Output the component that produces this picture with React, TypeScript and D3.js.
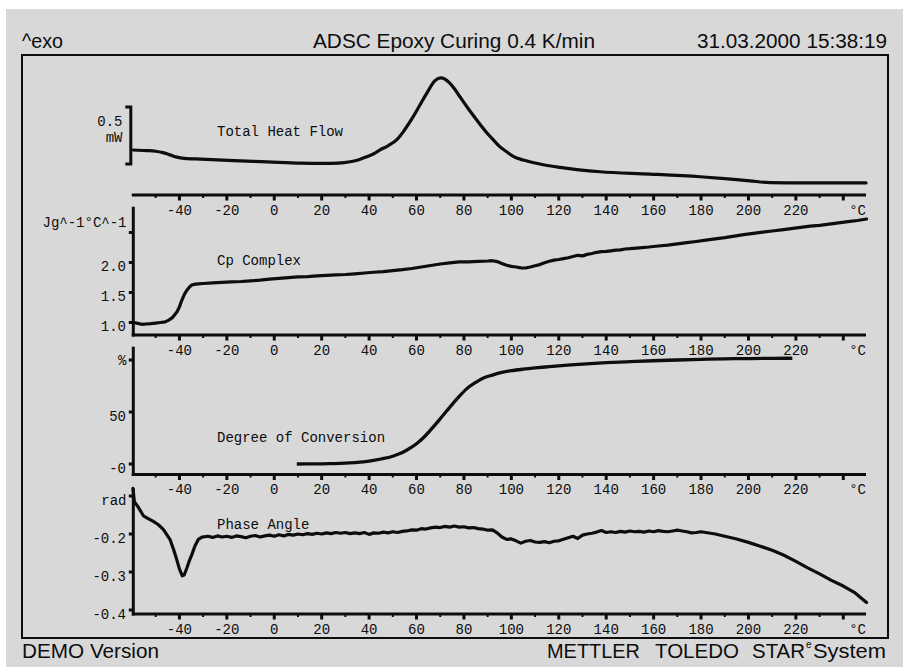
import React from 'react';
import * as d3 from 'd3';

// ---------- text ----------
const headerLeft = '^exo';
const headerTitle = 'ADSC Epoxy Curing 0.4 K/min';
const headerDate = '31.03.2000 15:38:19';
const footerLeft = 'DEMO Version';
const footerWords = ['METTLER', 'TOLEDO', 'STAR'];
const footerSup = 'e';
const footerLast = 'System';

// ---------- x axis (temperature) ----------
const xMajorTicks = [-40, -20, 0, 20, 40, 60, 80, 100, 120, 140, 160, 180, 200, 220, 240];
const xLabelTicks = [-40, -20, 0, 20, 40, 60, 80, 100, 120, 140, 160, 180, 200, 220];
const xMinorTicks = [-50, -30, -10, 10, 30, 50, 70, 90, 110, 130, 150, 170, 190, 210, 230];
const xUnit = '°C';

// ---------- panel titles ----------
const panelTitles = ['Total Heat Flow', 'Cp Complex', 'Degree of Conversion', 'Phase Angle'];

// ---------- Total heat flow (mW, relative) ----------
const hfScaleBar = [0, 0.5];
const hfScaleLabels = ['0.5', 'mW'];
const hfTemp = [-59.5, -54, -50, -47, -44, -41, -38, -31, -17, -3, 11, 21, 27, 32, 36, 39, 42, 44.6, 48, 51.6, 55, 58.6, 61.5, 64.3, 67.8, 70.3, 73.4, 76, 78.3, 82, 85.4, 89, 92.4, 95, 98, 101, 105, 112, 120.5, 137.4, 158.5, 179.6, 190, 200.6, 209, 220, 235, 249.6];
const hfValue = [0.123, 0.118, 0.112, 0.1, 0.08, 0.06, 0.05, 0.043, 0.03, 0.019, 0.007, 0.005, 0.008, 0.02, 0.04, 0.064, 0.09, 0.123, 0.16, 0.211, 0.3, 0.415, 0.52, 0.62, 0.731, 0.755, 0.722, 0.66, 0.59, 0.48, 0.386, 0.29, 0.211, 0.155, 0.108, 0.065, 0.035, 0.0, -0.029, -0.068, -0.088, -0.112, -0.128, -0.148, -0.163, -0.165, -0.165, -0.166];

// ---------- Cp complex (J/g/°C) ----------
const cpTicks = [1.0, 1.5, 2.0, 2.5];
const cpTickLabels = ['1.0', '1.5', '2.0', ''];
const cpUnit = 'Jg^-1°C^-1';
const cpTemp = [-59.6, -58, -56, -54, -52, -50, -48, -46, -44.5, -43, -42, -41, -40, -39, -38, -37, -36, -35, -34, -32, -30, -26, -22, -18, -14, -10, -6, -2, 2, 6, 10, 14, 18, 22, 26, 30, 34, 38, 42, 46, 50, 54, 58, 62, 66, 70, 74, 78, 82, 86, 90, 92, 94, 96, 98, 100, 102, 104, 106, 108, 110, 112, 114, 116, 118, 120, 122, 124, 126, 128, 130, 132, 134, 136, 138, 140, 142, 144, 146, 148, 150, 154, 158, 162, 166, 170, 174, 178, 182, 186, 190, 194, 198, 202, 206, 210, 214, 218, 222, 226, 230, 234, 238, 242, 246, 249.8];
const cpValue = [1.0, 0.99, 0.97, 0.975, 0.98, 0.99, 1.0, 1.01, 1.04, 1.08, 1.13, 1.18, 1.26, 1.37, 1.46, 1.53, 1.58, 1.62, 1.635, 1.645, 1.65, 1.662, 1.668, 1.676, 1.683, 1.694, 1.705, 1.722, 1.735, 1.748, 1.76, 1.766, 1.778, 1.786, 1.795, 1.8, 1.812, 1.825, 1.838, 1.848, 1.865, 1.88, 1.9, 1.925, 1.95, 1.975, 1.995, 2.01, 2.012, 2.02, 2.025, 2.03, 2.015, 1.985, 1.955, 1.935, 1.925, 1.91, 1.908, 1.925, 1.945, 1.965, 1.995, 2.02, 2.04, 2.05, 2.065, 2.08, 2.1, 2.12, 2.11, 2.135, 2.15, 2.17, 2.18, 2.185, 2.195, 2.205, 2.21, 2.225, 2.23, 2.245, 2.258, 2.275, 2.29, 2.31, 2.33, 2.35, 2.372, 2.395, 2.415, 2.44, 2.465, 2.485, 2.505, 2.525, 2.545, 2.565, 2.585, 2.605, 2.62, 2.64, 2.66, 2.68, 2.7, 2.725];

// ---------- Degree of conversion (%) ----------
const dcTicks = [0, 50, 100];
const dcTickLabels = ['-0', '50', ''];
const dcUnit = '%';
const dcTemp = [9.5, 15, 20, 25, 30, 35, 40, 45, 50, 53, 56, 60, 63, 67, 70, 74, 78, 81, 85, 88, 92, 96, 100, 105, 110, 116, 125, 130, 140, 150, 160, 170, 180, 190, 200, 210, 218.5];
const dcValue = [0, 0.1, 0.2, 0.4, 0.8, 1.5, 2.8, 4.8, 7.5, 10, 13.5, 19.5, 25.5, 35.5, 43.5, 54.5, 65, 72, 78.5, 82.5, 85.5, 88, 89.7, 91.2, 92.4, 93.6, 95.3, 96.1, 97.4, 98.4, 99.3, 100, 100.6, 101.1, 101.4, 101.6, 101.7];

// ---------- Phase angle (rad) ----------
const paTicks = [-0.1, -0.2, -0.3, -0.4];
const paTickLabels = ['', '-0.2', '-0.3', '-0.4'];
const paUnit = 'rad';
const paTemp = [-59.6, -59, -57.5, -55.2, -53, -51, -49, -46.8, -44, -42.5, -41.1, -40, -38.8, -38, -36.9, -35.8, -34.8, -33.5, -32, -30.5, -28, -26, -24, -22, -20, -18, -16, -14, -12, -10, -8, -6, -4, -2, 0, 2, 4, 6, 8, 10, 12, 14, 16, 18, 20, 22, 24, 26, 28, 30, 32, 34, 36, 38, 40, 42, 44, 46, 48, 50, 52, 54, 56, 58, 60, 62, 64, 66, 68, 70, 72, 74, 76, 78, 80, 82, 84, 86, 88, 90, 92, 94, 96, 98, 100, 102, 104, 106, 108, 110, 112, 114, 116, 118, 120, 122, 124, 126, 128, 130, 132, 134, 136, 138, 140, 142, 144, 146, 148, 150, 152, 154, 156, 158, 160, 162, 164, 166, 168, 170, 172, 174, 176, 178, 180, 182, 184, 186, 190, 195, 200, 205, 210, 215, 220, 225, 230, 235, 240, 245, 249.8];
const paValue = [-0.08, -0.115, -0.128, -0.152, -0.16, -0.167, -0.175, -0.188, -0.214, -0.24, -0.268, -0.292, -0.31, -0.308, -0.29, -0.27, -0.255, -0.232, -0.214, -0.208, -0.206, -0.209, -0.205, -0.208, -0.206, -0.209, -0.205, -0.207, -0.21, -0.206, -0.204, -0.208, -0.205, -0.203, -0.206, -0.202, -0.205, -0.201, -0.203, -0.2, -0.202, -0.199, -0.201, -0.198, -0.2, -0.197, -0.199, -0.196, -0.198, -0.196, -0.199, -0.197, -0.199, -0.196, -0.201, -0.197, -0.198, -0.195, -0.197, -0.194, -0.196, -0.193, -0.192, -0.189, -0.19, -0.186, -0.187, -0.184, -0.182, -0.183, -0.18, -0.182, -0.179, -0.182, -0.181, -0.184, -0.183, -0.186, -0.187, -0.19, -0.189, -0.197, -0.208, -0.214, -0.213, -0.218, -0.224, -0.219, -0.217, -0.221, -0.222, -0.22, -0.223, -0.219, -0.218, -0.214, -0.21, -0.206, -0.212, -0.203, -0.2, -0.198, -0.195, -0.191, -0.196, -0.194, -0.196, -0.193, -0.195, -0.192, -0.194, -0.193, -0.195, -0.192, -0.194, -0.191, -0.193, -0.194, -0.192, -0.19, -0.192, -0.194, -0.197, -0.196, -0.194, -0.196, -0.198, -0.2, -0.206, -0.213, -0.222, -0.232, -0.243, -0.256, -0.272, -0.289, -0.305, -0.322, -0.337, -0.355, -0.38];

const SANS = '"Liberation Sans", Arial, Helvetica, sans-serif';
const MONO = '"Liberation Mono", "Courier New", monospace';
const INK = '#0d0d0d';

const zip = (a: number[], b: number[]) => a.map((t, i) => [t, b[i]] as [number, number]);

export default function App() {
  const W = 903;
  const H = 668;
  const axisL = 133.3;
  const axisR = 866;
  const x = d3.scaleLinear().domain([-60, 250]).range([132, 867]);

  const yHF = d3.scaleLinear().domain([0, 0.5]).range([164, 107]);
  const yCp = d3.scaleLinear().domain([1, 2]).range([322.5, 262.5]);
  const yDc = d3.scaleLinear().domain([0, 100]).range([464, 360]);
  const yPa = d3.scaleLinear().domain([-0.2, -0.4]).range([534, 610]);

  const xAxisY = [195, 335, 474.5, 614];

  const mkLine = (ys: d3.ScaleLinear<number, number>, curve: d3.CurveFactory) =>
    d3.line<[number, number]>().x(d => x(d[0])).y(d => ys(d[1])).curve(curve);

  const hfPath = mkLine(yHF, d3.curveMonotoneX)(zip(hfTemp, hfValue)) || '';
  const cpPath = mkLine(yCp, d3.curveLinear)(zip(cpTemp, cpValue)) || '';
  const dcPath = mkLine(yDc, d3.curveMonotoneX)(zip(dcTemp, dcValue)) || '';
  const paPath = mkLine(yPa, d3.curveLinear)(zip(paTemp, paValue)) || '';

  const xAxis = (y0: number, key: string) => (
    <g key={key}>
      <line x1={axisL - 1.5} x2={axisR} y1={y0} y2={y0} stroke={INK} strokeWidth={3} />
      {xMajorTicks.map(t => (
        <line key={'M' + t} x1={x(t)} x2={x(t)} y1={y0} y2={y0 + 5.5} stroke={INK} strokeWidth={3} />
      ))}
      {xMinorTicks.map(t => (
        <line key={'m' + t} x1={x(t)} x2={x(t)} y1={y0} y2={y0 + 3} stroke={INK} strokeWidth={2} />
      ))}
      {xLabelTicks.map(t => (
        <text key={'l' + t} x={x(t)} y={y0 + 19.5} textAnchor="middle" fontFamily={MONO} fontSize={14} fill={INK}>
          {String(t)}
        </text>
      ))}
      <text x={axisR} y={y0 + 19.5} textAnchor="end" fontFamily={MONO} fontSize={14} fill={INK}>
        {xUnit}
      </text>
    </g>
  );

  const yAxis = (
    ys: d3.ScaleLinear<number, number>,
    top: number,
    bottom: number,
    ticks: number[],
    labels: string[],
    unit: string,
    unitY: number,
    key: string
  ) => (
    <g key={key}>
      <line x1={axisL} x2={axisL} y1={top} y2={bottom + 1.5} stroke={INK} strokeWidth={3} />
      {ticks.map(t => (
        <line key={'t' + t} x1={axisL - 4.5} x2={axisL} y1={ys(t)} y2={ys(t)} stroke={INK} strokeWidth={3} />
      ))}
      {ticks.map((t, i) =>
        labels[i] ? (
          <text key={'l' + t} x={126} y={ys(t) + 8.5} textAnchor="end" fontFamily={MONO} fontSize={14} fill={INK}>
            {labels[i]}
          </text>
        ) : null
      )}
      <text x={126.5} y={unitY} textAnchor="end" fontFamily={MONO} fontSize={14} fill={INK}>
        {unit}
      </text>
    </g>
  );

  const title = (t: string, y: number, k: string) => (
    <text key={k} x={217} y={y} fontFamily={MONO} fontSize={14} fill={INK} style={{ whiteSpace: 'pre' }}>
      {t}
    </text>
  );

  const barTop = yHF(hfScaleBar[1]);
  const barBot = yHF(hfScaleBar[0]);

  return (
    <svg
      width={W}
      height={H}
      viewBox={`0 0 ${W} ${H}`}
      style={{ position: 'absolute', left: 0, top: 0, display: 'block', background: '#ffffff' }}
    >
      <rect x={6} y={9} width={W - 6} height={658} fill="#d8d8d8" />

      {/* header */}
      <text x={22} y={48} fontFamily={SANS} fontSize={20} fill={INK} textLength={41} lengthAdjust="spacingAndGlyphs">{headerLeft}</text>
      <text x={313} y={48} fontFamily={SANS} fontSize={20} fill={INK} textLength={282} lengthAdjust="spacingAndGlyphs">{headerTitle}</text>
      <text x={697} y={48} fontFamily={SANS} fontSize={20} fill={INK} textLength={190} lengthAdjust="spacingAndGlyphs">{headerDate}</text>

      {/* frame */}
      <rect x={22} y={55} width={866} height={583} fill="none" stroke={INK} strokeWidth={2} />

      {/* panel 1: total heat flow */}
      <path
        d={`M${axisL - 8},${barTop} H${axisL - 2.5} V${barBot} H${axisL - 8}`}
        fill="none"
        stroke={INK}
        strokeWidth={3}
      />
      <text x={122.5} y={126} textAnchor="end" fontFamily={MONO} fontSize={14} fill={INK}>{hfScaleLabels[0]}</text>
      <text x={122.5} y={142} textAnchor="end" fontFamily={MONO} fontSize={14} fill={INK}>{hfScaleLabels[1]}</text>
      {title(panelTitles[0], 136, 't0')}
      <path d={hfPath} fill="none" stroke={INK} strokeWidth={3.2} strokeLinejoin="round" strokeLinecap="round" />
      {xAxis(xAxisY[0], 'x0')}

      {/* panel 2: Cp */}
      {yAxis(yCp, 206.7, xAxisY[1], cpTicks, cpTickLabels, cpUnit, 226.5, 'y1')}
      {title(panelTitles[1], 265, 't1')}
      <path d={cpPath} fill="none" stroke={INK} strokeWidth={3.2} strokeLinejoin="round" strokeLinecap="round" />
      {xAxis(xAxisY[1], 'x1')}

      {/* panel 3: degree of conversion */}
      {yAxis(yDc, 346.7, xAxisY[2], dcTicks, dcTickLabels, dcUnit, 365, 'y2')}
      {title(panelTitles[2], 442, 't2')}
      <path d={dcPath} fill="none" stroke={INK} strokeWidth={3.3} strokeLinejoin="round" />
      {xAxis(xAxisY[2], 'x2')}

      {/* panel 4: phase angle */}
      {yAxis(yPa, 488.3, xAxisY[3], paTicks, paTickLabels, paUnit, 505, 'y3')}
      {title(panelTitles[3], 529, 't3')}
      <path d={paPath} fill="none" stroke={INK} strokeWidth={3.2} strokeLinejoin="round" strokeLinecap="round" />
      {xAxis(xAxisY[3], 'x3')}

      {/* footer */}
      <text x={22} y={658} fontFamily={SANS} fontSize={20} fill={INK} textLength={137} lengthAdjust="spacingAndGlyphs">{footerLeft}</text>
      <text x={547} y={658} fontFamily={SANS} fontSize={20} fill={INK} textLength={93} lengthAdjust="spacingAndGlyphs">{footerWords[0]}</text>
      <text x={655} y={658} fontFamily={SANS} fontSize={20} fill={INK} textLength={84} lengthAdjust="spacingAndGlyphs">{footerWords[1]}</text>
      <text x={752} y={658} fontFamily={SANS} fontSize={20} fill={INK} textLength={53} lengthAdjust="spacingAndGlyphs">{footerWords[2]}</text>
      <text x={806} y={648} fontFamily={SANS} fontSize={10} fill={INK}>{footerSup}</text>
      <text x={813} y={658} fontFamily={SANS} fontSize={20} fill={INK} textLength={73} lengthAdjust="spacingAndGlyphs">{footerLast}</text>
    </svg>
  );
}
